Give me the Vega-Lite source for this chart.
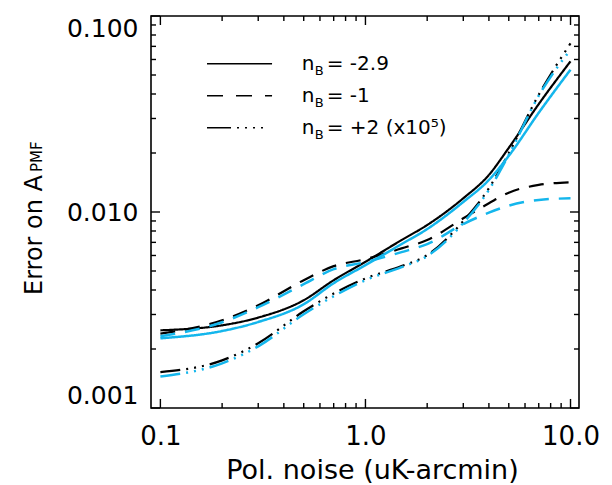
{
  "$schema": "https://vega.github.io/schema/vega-lite/v6.json",
  "width": 428,
  "height": 392,
  "autosize": "none",
  "padding": {"left": 151, "top": 16, "right": 33, "bottom": 77},
  "background": "white",
  "config": {
    "view": {"stroke": "black", "strokeWidth": 1.6},
    "font": "DejaVu Sans",
    "axis": {
      "domain": false, "grid": false, "ticks": false,
      "labelColor": "black", "labelFont": "DejaVu Sans", "labelFontSize": 25,
      "titleColor": "black", "titleFont": "DejaVu Sans", "titleFontSize": 26, "titleFontWeight": "normal",
      "labelOverlap": false
    }
  },
  "datasets": {
    "xticks": [
      {"v": 0.1, "major": true}, {"v": 0.2, "major": false}, {"v": 0.3, "major": false}, {"v": 0.4, "major": false},
      {"v": 0.5, "major": false}, {"v": 0.6, "major": false}, {"v": 0.7, "major": false}, {"v": 0.8, "major": false},
      {"v": 0.9, "major": false}, {"v": 1, "major": true}, {"v": 2, "major": false}, {"v": 3, "major": false},
      {"v": 4, "major": false}, {"v": 5, "major": false}, {"v": 6, "major": false}, {"v": 7, "major": false},
      {"v": 8, "major": false}, {"v": 9, "major": false}, {"v": 10, "major": true}
    ],
    "yticks": [
      {"v": 0.001, "major": true}, {"v": 0.002, "major": false}, {"v": 0.003, "major": false}, {"v": 0.004, "major": false},
      {"v": 0.005, "major": false}, {"v": 0.006, "major": false}, {"v": 0.007, "major": false}, {"v": 0.008, "major": false},
      {"v": 0.009, "major": false}, {"v": 0.01, "major": true}, {"v": 0.02, "major": false}, {"v": 0.03, "major": false},
      {"v": 0.04, "major": false}, {"v": 0.05, "major": false}, {"v": 0.06, "major": false}, {"v": 0.07, "major": false},
      {"v": 0.08, "major": false}, {"v": 0.09, "major": false}, {"v": 0.1, "major": true}
    ],
    "curves": [
      {"x": 0.1, "y": 0.002491, "nB": "-2.9", "set": "A"},
      {"x": 0.2, "y": 0.002642, "nB": "-2.9", "set": "A"},
      {"x": 0.3, "y": 0.002893, "nB": "-2.9", "set": "A"},
      {"x": 0.5, "y": 0.003547, "nB": "-2.9", "set": "A"},
      {"x": 0.7, "y": 0.004488, "nB": "-2.9", "set": "A"},
      {"x": 1.0, "y": 0.005569, "nB": "-2.9", "set": "A"},
      {"x": 1.5, "y": 0.007192, "nB": "-2.9", "set": "A"},
      {"x": 2.0, "y": 0.008583, "nB": "-2.9", "set": "A"},
      {"x": 3.0, "y": 0.01175, "nB": "-2.9", "set": "A"},
      {"x": 4.0, "y": 0.01546, "nB": "-2.9", "set": "A"},
      {"x": 5.0, "y": 0.02125, "nB": "-2.9", "set": "A"},
      {"x": 7.0, "y": 0.03555, "nB": "-2.9", "set": "A"},
      {"x": 10.0, "y": 0.05872, "nB": "-2.9", "set": "A"},
      {"x": 0.1, "y": 0.002396, "nB": "-1", "set": "A"},
      {"x": 0.2, "y": 0.002803, "nB": "-1", "set": "A"},
      {"x": 0.3, "y": 0.003344, "nB": "-1", "set": "A"},
      {"x": 0.5, "y": 0.004488, "nB": "-1", "set": "A"},
      {"x": 0.7, "y": 0.005294, "nB": "-1", "set": "A"},
      {"x": 1.0, "y": 0.005749, "nB": "-1", "set": "A"},
      {"x": 1.5, "y": 0.006521, "nB": "-1", "set": "A"},
      {"x": 2.0, "y": 0.007192, "nB": "-1", "set": "A"},
      {"x": 3.0, "y": 0.009286, "nB": "-1", "set": "A"},
      {"x": 4.0, "y": 0.01108, "nB": "-1", "set": "A"},
      {"x": 5.0, "y": 0.01255, "nB": "-1", "set": "A"},
      {"x": 7.0, "y": 0.01374, "nB": "-1", "set": "A"},
      {"x": 10.0, "y": 0.01419, "nB": "-1", "set": "A"},
      {"x": 0.1, "y": 0.001524, "nB": "+2", "set": "A"},
      {"x": 0.2, "y": 0.00175, "nB": "+2", "set": "A"},
      {"x": 0.3, "y": 0.002138, "nB": "+2", "set": "A"},
      {"x": 0.5, "y": 0.003116, "nB": "+2", "set": "A"},
      {"x": 0.7, "y": 0.003838, "nB": "+2", "set": "A"},
      {"x": 1.0, "y": 0.00458, "nB": "+2", "set": "A"},
      {"x": 1.5, "y": 0.005294, "nB": "+2", "set": "A"},
      {"x": 2.0, "y": 0.006026, "nB": "+2", "set": "A"},
      {"x": 3.0, "y": 0.008995, "nB": "+2", "set": "A"},
      {"x": 4.0, "y": 0.01322, "nB": "+2", "set": "A"},
      {"x": 5.0, "y": 0.01997, "nB": "+2", "set": "A"},
      {"x": 7.0, "y": 0.03967, "nB": "+2", "set": "A"},
      {"x": 10.0, "y": 0.0725, "nB": "+2", "set": "A"},
      {"x": 0.1, "y": 0.002268, "nB": "-2.9", "set": "B"},
      {"x": 0.2, "y": 0.002471, "nB": "-2.9", "set": "B"},
      {"x": 0.3, "y": 0.002747, "nB": "-2.9", "set": "B"},
      {"x": 0.5, "y": 0.003383, "nB": "-2.9", "set": "B"},
      {"x": 0.7, "y": 0.004334, "nB": "-2.9", "set": "B"},
      {"x": 1.0, "y": 0.005356, "nB": "-2.9", "set": "B"},
      {"x": 1.5, "y": 0.00686, "nB": "-2.9", "set": "B"},
      {"x": 2.0, "y": 0.008185, "nB": "-2.9", "set": "B"},
      {"x": 3.0, "y": 0.01125, "nB": "-2.9", "set": "B"},
      {"x": 4.0, "y": 0.01458, "nB": "-2.9", "set": "B"},
      {"x": 5.0, "y": 0.01934, "nB": "-2.9", "set": "B"},
      {"x": 7.0, "y": 0.03209, "nB": "-2.9", "set": "B"},
      {"x": 10.0, "y": 0.05325, "nB": "-2.9", "set": "B"},
      {"x": 0.1, "y": 0.002321, "nB": "-1", "set": "B"},
      {"x": 0.2, "y": 0.002737, "nB": "-1", "set": "B"},
      {"x": 0.3, "y": 0.003267, "nB": "-1", "set": "B"},
      {"x": 0.5, "y": 0.004282, "nB": "-1", "set": "B"},
      {"x": 0.7, "y": 0.00511, "nB": "-1", "set": "B"},
      {"x": 1.0, "y": 0.005549, "nB": "-1", "set": "B"},
      {"x": 1.5, "y": 0.006243, "nB": "-1", "set": "B"},
      {"x": 2.0, "y": 0.00686, "nB": "-1", "set": "B"},
      {"x": 3.0, "y": 0.008683, "nB": "-1", "set": "B"},
      {"x": 4.0, "y": 0.009918, "nB": "-1", "set": "B"},
      {"x": 5.0, "y": 0.01077, "nB": "-1", "set": "B"},
      {"x": 7.0, "y": 0.01152, "nB": "-1", "set": "B"},
      {"x": 10.0, "y": 0.01175, "nB": "-1", "set": "B"},
      {"x": 0.1, "y": 0.001449, "nB": "+2", "set": "B"},
      {"x": 0.2, "y": 0.001689, "nB": "+2", "set": "B"},
      {"x": 0.3, "y": 0.002064, "nB": "+2", "set": "B"},
      {"x": 0.5, "y": 0.003008, "nB": "+2", "set": "B"},
      {"x": 0.7, "y": 0.003718, "nB": "+2", "set": "B"},
      {"x": 1.0, "y": 0.004488, "nB": "+2", "set": "B"},
      {"x": 1.5, "y": 0.005232, "nB": "+2", "set": "B"},
      {"x": 2.0, "y": 0.005957, "nB": "+2", "set": "B"},
      {"x": 3.0, "y": 0.008786, "nB": "+2", "set": "B"},
      {"x": 4.0, "y": 0.01296, "nB": "+2", "set": "B"},
      {"x": 5.0, "y": 0.01956, "nB": "+2", "set": "B"},
      {"x": 7.0, "y": 0.0392, "nB": "+2", "set": "B"},
      {"x": 10.0, "y": 0.0674, "nB": "+2", "set": "B"}
    ]
  },
  "layer": [
    {
      "data": {"name": "curves"},
      "transform": [{"filter": "datum.set == 'A'"}],
      "mark": {"type": "line", "color": "black", "strokeWidth": 2.2, "interpolate": "monotone"},
      "encoding": {
        "x": {"field": "x", "type": "quantitative",
          "scale": {"type": "log", "domain": [0.09, 11], "nice": false},
          "axis": {
            "orient": "bottom",
            "values": [0.1, 1, 10],
            "labelExpr": "datum.value == 0.1 ? '0.1' : datum.value == 1 ? '1.0' : '10.0'",
            "labelPadding": 15,
            "labelFontSize": 26,
            "labelFlush": false,
            "title": "Pol. noise (uK-arcmin)",
            "titleFontSize": 27,
            "titleX": 221,
            "titleAnchor": "middle",
            "titlePadding": 8
          }
        },
        "y": {"field": "y", "type": "quantitative",
          "scale": {"type": "log", "domain": [0.001, 0.1], "nice": false},
          "axis": {
            "orient": "left",
            "values": [0.001, 0.01, 0.1],
            "format": ".3f",
            "labelPadding": 13,
            "labelFlush": true,
            "labelFlushOffset": 0,
            "title": "Error on A",
            "titleFontSize": 24,
            "titleAngle": 270,
            "titleAlign": "center",
            "titleBaseline": "alphabetic",
            "titleX": -110,
            "titleY": 218.5
          }
        },
        "strokeDash": {"field": "nB", "type": "nominal",
          "scale": {"domain": ["-2.9", "-1", "+2"], "range": [[1, 0], [15, 10], [20, 6, 2, 6, 2, 6, 2, 6]]},
          "legend": null},
        "detail": {"field": "nB"}
      }
    },
    {
      "data": {"name": "curves"},
      "transform": [{"filter": "datum.set == 'B'"}],
      "mark": {"type": "line", "color": "#14b6ec", "strokeWidth": 2.5, "interpolate": "monotone"},
      "encoding": {
        "x": {"field": "x", "type": "quantitative", "scale": {"type": "log", "domain": [0.09, 11], "nice": false}},
        "y": {"field": "y", "type": "quantitative", "scale": {"type": "log", "domain": [0.001, 0.1], "nice": false}},
        "strokeDash": {"field": "nB", "type": "nominal", "legend": null},
        "detail": {"field": "nB"}
      }
    },
    {
      "data": {"name": "xticks"},
      "transform": [{"filter": "datum.major"}],
      "mark": {"type": "rule", "color": "black", "strokeWidth": 1.4},
      "encoding": {
        "x": {"field": "v", "type": "quantitative", "scale": {"type": "log", "domain": [0.09, 11], "nice": false}},
        "y": {"datum": 0.001, "type": "quantitative", "scale": {"type": "log", "domain": [0.001, 0.1], "nice": false}},
        "y2": {"datum": 0.001112}
      }
    },
    {
      "data": {"name": "xticks"},
      "transform": [{"filter": "!datum.major"}],
      "mark": {"type": "rule", "color": "black", "strokeWidth": 1.4},
      "encoding": {
        "x": {"field": "v", "type": "quantitative", "scale": {"type": "log", "domain": [0.09, 11], "nice": false}},
        "y": {"datum": 0.001, "type": "quantitative", "scale": {"type": "log", "domain": [0.001, 0.1], "nice": false}},
        "y2": {"datum": 0.0010606}
      }
    },
    {
      "data": {"name": "xticks"},
      "transform": [{"filter": "datum.major"}],
      "mark": {"type": "rule", "color": "black", "strokeWidth": 1.4},
      "encoding": {
        "x": {"field": "v", "type": "quantitative", "scale": {"type": "log", "domain": [0.09, 11], "nice": false}},
        "y": {"datum": 0.1, "type": "quantitative", "scale": {"type": "log", "domain": [0.001, 0.1], "nice": false}},
        "y2": {"datum": 0.08994}
      }
    },
    {
      "data": {"name": "xticks"},
      "transform": [{"filter": "!datum.major"}],
      "mark": {"type": "rule", "color": "black", "strokeWidth": 1.4},
      "encoding": {
        "x": {"field": "v", "type": "quantitative", "scale": {"type": "log", "domain": [0.09, 11], "nice": false}},
        "y": {"datum": 0.1, "type": "quantitative", "scale": {"type": "log", "domain": [0.001, 0.1], "nice": false}},
        "y2": {"datum": 0.09429}
      }
    },
    {
      "data": {"name": "yticks"},
      "transform": [{"filter": "datum.major"}],
      "mark": {"type": "rule", "color": "black", "strokeWidth": 1.4},
      "encoding": {
        "y": {"field": "v", "type": "quantitative", "scale": {"type": "log", "domain": [0.001, 0.1], "nice": false}},
        "x": {"datum": 0.09, "type": "quantitative", "scale": {"type": "log", "domain": [0.09, 11], "nice": false}},
        "x2": {"datum": 0.09957}
      }
    },
    {
      "data": {"name": "yticks"},
      "transform": [{"filter": "!datum.major"}],
      "mark": {"type": "rule", "color": "black", "strokeWidth": 1.4},
      "encoding": {
        "y": {"field": "v", "type": "quantitative", "scale": {"type": "log", "domain": [0.001, 0.1], "nice": false}},
        "x": {"datum": 0.09, "type": "quantitative", "scale": {"type": "log", "domain": [0.09, 11], "nice": false}},
        "x2": {"datum": 0.0952}
      }
    },
    {
      "data": {"name": "yticks"},
      "transform": [{"filter": "datum.major"}],
      "mark": {"type": "rule", "color": "black", "strokeWidth": 1.4},
      "encoding": {
        "y": {"field": "v", "type": "quantitative", "scale": {"type": "log", "domain": [0.001, 0.1], "nice": false}},
        "x": {"datum": 11, "type": "quantitative", "scale": {"type": "log", "domain": [0.09, 11], "nice": false}},
        "x2": {"datum": 9.943}
      }
    },
    {
      "data": {"name": "yticks"},
      "transform": [{"filter": "!datum.major"}],
      "mark": {"type": "rule", "color": "black", "strokeWidth": 1.4},
      "encoding": {
        "y": {"field": "v", "type": "quantitative", "scale": {"type": "log", "domain": [0.001, 0.1], "nice": false}},
        "x": {"datum": 11, "type": "quantitative", "scale": {"type": "log", "domain": [0.09, 11], "nice": false}},
        "x2": {"datum": 10.399}
      }
    },
    {
      "data": {"values": [{}]},
      "mark": {"type": "rule", "color": "black", "strokeWidth": 1.5},
      "encoding": {
        "x": {"datum": 0.1688, "type": "quantitative", "scale": {"type": "log", "domain": [0.09, 11], "nice": false}},
        "x2": {"datum": 0.3504},
        "y": {"datum": 0.0571, "type": "quantitative", "scale": {"type": "log", "domain": [0.001, 0.1], "nice": false}}
      }
    },
    {
      "data": {"values": [{}]},
      "mark": {"type": "rule", "color": "black", "strokeWidth": 1.5, "strokeDash": [16, 13]},
      "encoding": {
        "x": {"datum": 0.1688, "type": "quantitative", "scale": {"type": "log", "domain": [0.09, 11], "nice": false}},
        "x2": {"datum": 0.3504},
        "y": {"datum": 0.0392, "type": "quantitative", "scale": {"type": "log", "domain": [0.001, 0.1], "nice": false}}
      }
    },
    {
      "data": {"values": [{}]},
      "mark": {"type": "rule", "color": "black", "strokeWidth": 1.5, "strokeDash": [24, 6, 2, 6, 2, 6, 2, 6, 2, 10]},
      "encoding": {
        "x": {"datum": 0.1688, "type": "quantitative", "scale": {"type": "log", "domain": [0.09, 11], "nice": false}},
        "x2": {"datum": 0.3504},
        "y": {"datum": 0.0269, "type": "quantitative", "scale": {"type": "log", "domain": [0.001, 0.1], "nice": false}}
      }
    },
    {
      "data": {"values": [{"rest": "= -2.9"}]},
      "encoding": {
        "x": {"datum": 0.489, "type": "quantitative", "scale": {"type": "log", "domain": [0.09, 11], "nice": false}},
        "y": {"datum": 0.0571, "type": "quantitative", "scale": {"type": "log", "domain": [0.001, 0.1], "nice": false}}
      },
      "layer": [
        {"mark": {"type": "text", "text": "n", "align": "left", "baseline": "middle", "fontSize": 20, "color": "black", "font": "DejaVu Sans"}},
        {"mark": {"type": "text", "text": "B", "align": "left", "baseline": "middle", "fontSize": 13, "dx": 13, "dy": 7, "color": "black", "font": "DejaVu Sans"}},
        {"mark": {"type": "text", "align": "left", "baseline": "middle", "fontSize": 20, "dx": 25, "color": "black", "font": "DejaVu Sans"}, "encoding": {"text": {"field": "rest"}}}
      ]
    },
    {
      "data": {"values": [{"rest": "= -1"}]},
      "encoding": {
        "x": {"datum": 0.489, "type": "quantitative", "scale": {"type": "log", "domain": [0.09, 11], "nice": false}},
        "y": {"datum": 0.0392, "type": "quantitative", "scale": {"type": "log", "domain": [0.001, 0.1], "nice": false}}
      },
      "layer": [
        {"mark": {"type": "text", "text": "n", "align": "left", "baseline": "middle", "fontSize": 20, "color": "black", "font": "DejaVu Sans"}},
        {"mark": {"type": "text", "text": "B", "align": "left", "baseline": "middle", "fontSize": 13, "dx": 13, "dy": 7, "color": "black", "font": "DejaVu Sans"}},
        {"mark": {"type": "text", "align": "left", "baseline": "middle", "fontSize": 20, "dx": 25, "color": "black", "font": "DejaVu Sans"}, "encoding": {"text": {"field": "rest"}}}
      ]
    },
    {
      "data": {"values": [{"rest": "= +2 (x10⁵)"}]},
      "encoding": {
        "x": {"datum": 0.489, "type": "quantitative", "scale": {"type": "log", "domain": [0.09, 11], "nice": false}},
        "y": {"datum": 0.0269, "type": "quantitative", "scale": {"type": "log", "domain": [0.001, 0.1], "nice": false}}
      },
      "layer": [
        {"mark": {"type": "text", "text": "n", "align": "left", "baseline": "middle", "fontSize": 20, "color": "black", "font": "DejaVu Sans"}},
        {"mark": {"type": "text", "text": "B", "align": "left", "baseline": "middle", "fontSize": 13, "dx": 13, "dy": 7, "color": "black", "font": "DejaVu Sans"}},
        {"mark": {"type": "text", "align": "left", "baseline": "middle", "fontSize": 20, "dx": 25, "color": "black", "font": "DejaVu Sans"}, "encoding": {"text": {"field": "rest"}}}
      ]
    },
    {
      "data": {"values": [{}]},
      "mark": {"type": "text", "text": "PMF", "angle": 270, "align": "left", "baseline": "alphabetic", "fontSize": 15, "color": "black", "font": "DejaVu Sans"},
      "encoding": {
        "x": {"datum": 0.0265, "type": "quantitative", "scale": {"type": "log", "domain": [0.09, 11], "nice": false}},
        "y": {"datum": 0.016, "type": "quantitative", "scale": {"type": "log", "domain": [0.001, 0.1], "nice": false}}
      }
    }
  ]
}
